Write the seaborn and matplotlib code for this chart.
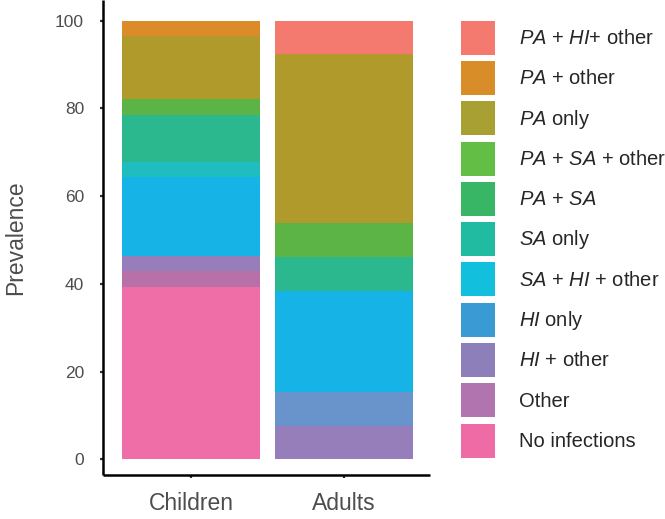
import matplotlib
matplotlib.use("Agg")
import matplotlib.pyplot as plt
from matplotlib.patches import Patch
import seaborn as sns
import pandas as pd

# ---- data (percent of subjects) ----
groups = ["Children", "Adults"]
categories = ["PA + HI + other", "PA + other", "PA only", "PA + SA + other", "PA + SA",
              "SA only", "SA + HI + other", "HI only", "HI + other", "Other", "No infections"]
legend_labels = [r"$PA$ + $HI$+ other", r"$PA$ + other", r"$PA$ only", r"$PA$ + $SA$ + other",
                 r"$PA$ + $SA$", r"$SA$ only", r"$SA$ + $HI$ + other", r"$HI$ only",
                 r"$HI$ + other", "Other", "No infections"]
children_values = [0, 3.57, 14.29, 3.57, 10.71, 3.57, 17.86, 0, 3.57, 3.57, 39.29]
adults_values = [7.69, 0, 38.46, 7.69, 7.69, 0, 23.08, 7.69, 7.69, 0, 0]
y_ticks = [0, 20, 40, 60, 80, 100]

bar_colors = ["#F47A70", "#DB8C29", "#AF9A2B", "#5DB446", "#2CB88F", "#1FBDC0",
              "#16B4E6", "#6893CB", "#957EB9", "#B870A9", "#F06EA8"]
legend_colors = ["#F47A6F", "#D98D28", "#A9A033", "#63BE45", "#38B565", "#20BBA0",
                 "#12C0DE", "#3A9AD3", "#8C7FBA", "#B274AE", "#EE6BA5"]

rows = []
for g, vals in zip(groups, [children_values, adults_values]):
    for c, v in zip(categories, vals):
        rows.append({"group": g, "category": c, "value": v})
df = pd.DataFrame(rows)

sns.set_style("white")
plt.rcParams["font.family"] = ["Liberation Sans", "DejaVu Sans"]
plt.rcParams["mathtext.fontset"] = "custom"
plt.rcParams["mathtext.rm"] = "Liberation Sans"
plt.rcParams["mathtext.it"] = "Liberation Sans:italic"

W, H = 665, 519
fig = plt.figure(figsize=(W / 100, H / 100), dpi=100)
ax = fig.add_axes([102.8 / W, (H - 474.7) / H, (430 - 102.8) / W, 474.7 / H])

sns.histplot(data=df, x="group", hue="category", weights="value", multiple="stack",
             hue_order=categories, palette=dict(zip(categories, bar_colors)),
             discrete=True, shrink=0.9, alpha=1, linewidth=0, legend=False, ax=ax)

ax.set_xlim(-0.576, 1.562)
ax.set_ylim(-3.51, 104.72)
ax.set_yticks(y_ticks)
ax.set_yticklabels([str(t) for t in y_ticks])
ax.set_xlabel("")
ax.set_ylabel("Prevalence", fontsize=16.5, color="#4D4D4D", labelpad=20)

for s in ["top", "right"]:
    ax.spines[s].set_visible(False)
for s in ["left", "bottom"]:
    ax.spines[s].set_linewidth(1.8)
    ax.spines[s].set_color("black")
    ax.spines[s].set_capstyle("butt")

ax.tick_params(axis="y", length=2, width=1.6, color="#333333", labelsize=12.5,
               labelcolor="#4D4D4D", pad=11.5, left=True)
ax.tick_params(axis="x", length=2, width=1.6, color="#333333", labelsize=16.5,
               labelcolor="#4D4D4D", pad=10.5, bottom=True)

fs = 14.5
fs_px = fs * 100 / 72
hh = 2.22
row_px = 34.0
handles = [Patch(facecolor=c, edgecolor="none") for c in legend_colors]
fig.legend(handles, legend_labels, loc="upper left",
           bbox_to_anchor=(460.7 / W, 1 - 20.7 / H), frameon=False,
           fontsize=fs, handlelength=1.69, handleheight=hh,
           labelspacing=(40.3 - row_px) / fs_px,
           handletextpad=1.19, borderpad=0, borderaxespad=0)

fig.savefig("out.png", dpi=100)
